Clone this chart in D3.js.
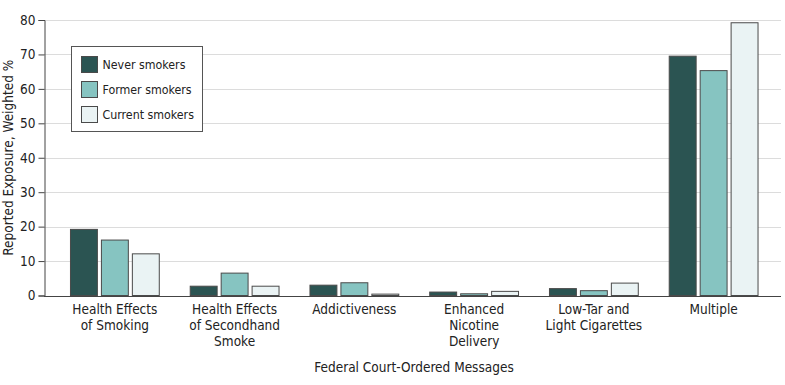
<!DOCTYPE html>
<html>
<head>
<meta charset="utf-8">
<script src="https://cdn.jsdelivr.net/npm/d3@7"></script>
<style>
  body { margin: 0; background: #fff; }
  text { font-family: "DejaVu Sans Condensed", "Liberation Sans Narrow", "Roboto", sans-serif; fill: #222; }
</style>
</head>
<body>
<svg id="chart"></svg>
<script>
const categories = [
  ['Health Effects', 'of Smoking'],
  ['Health Effects', 'of Secondhand', 'Smoke'],
  ['Addictiveness'],
  ['Enhanced', 'Nicotine', 'Delivery'],
  ['Low-Tar and', 'Light Cigarettes'],
  ['Multiple']
];
const seriesNames = ['Never smokers', 'Former smokers', 'Current smokers'];
const neverSmokers = [19.2, 2.7, 3.0, 1.0, 2.0, 69.5];
const formerSmokers = [16.1, 6.5, 3.7, 0.5, 1.4, 65.3];
const currentSmokers = [12.1, 2.7, 0.4, 1.2, 3.6, 79.2];
const yTicks = [0, 10, 20, 30, 40, 50, 60, 70, 80];

const colors = ['#2b5452', '#86c4c1', '#eaf3f4'];
const series = [neverSmokers, formerSmokers, currentSmokers];

const width = 785;
const height = 385;
const margin = { top: 20, right: 4, bottom: 90, left: 44 };

const svg = d3.select('#chart')
  .attr('width', width)
  .attr('height', height);

// bands sit a little inside the plot, more room on the left
const x0 = d3.scaleBand()
  .domain(d3.range(categories.length))
  .range([55, 773.5])
  .padding(0);

const x1 = d3.scaleBand()
  .domain(d3.range(series.length))
  .range([0, x0.bandwidth()])
  .paddingOuter(0.5)
  .paddingInner(0.13);

const y = d3.scaleLinear()
  .domain([0, 80])
  .range([height - margin.bottom + 0.5, margin.top]);

// grid
svg.append('g')
  .selectAll('line')
  .data(yTicks.slice(1))
  .join('line')
  .attr('x1', margin.left)
  .attr('x2', width - margin.right)
  .attr('y1', d => Math.round(y(d)) + 0.5)
  .attr('y2', d => Math.round(y(d)) + 0.5)
  .attr('stroke', '#dcdcdc')
  .attr('stroke-width', 1);

// bars
const groups = svg.append('g')
  .selectAll('g')
  .data(categories.map((c, i) => i))
  .join('g')
  .attr('transform', i => `translate(${x0(i)},0)`);

groups.selectAll('rect')
  .data(i => series.map((s, k) => ({ k, v: s[i] })))
  .join('rect')
  .attr('x', d => x1(d.k))
  .attr('width', x1.bandwidth())
  .attr('y', d => y(d.v))
  .attr('height', d => y(0) - y(d.v))
  .attr('fill', d => colors[d.k])
  .attr('stroke', '#4a4a4a')
  .attr('stroke-width', 1);

// y axis
const yAxis = svg.append('g')
  .attr('transform', `translate(${margin.left + 0.5},0)`)
  .call(d3.axisLeft(y).tickValues(yTicks).tickSize(6).tickPadding(3));
yAxis.select('.domain').attr('stroke', '#444');
yAxis.selectAll('.tick line').attr('stroke', '#444');
yAxis.selectAll('.tick text')
  .style('font-size', '13.5px')
  .attr('fill', '#222');

// x baseline
svg.append('line')
  .attr('x1', margin.left)
  .attr('x2', width - margin.right)
  .attr('y1', Math.round(y(0)) + 0.5)
  .attr('y2', Math.round(y(0)) + 0.5)
  .attr('stroke', '#444');

// category labels
const catLabels = svg.append('g')
  .selectAll('text')
  .data(categories)
  .join('text')
  .attr('text-anchor', 'middle')
  .attr('x', (d, i) => x0(i) + x0.bandwidth() / 2)
  .attr('y', 314)
  .style('font-size', '13.5px');

catLabels.selectAll('tspan')
  .data(d => d)
  .join('tspan')
  .attr('x', function () { return this.parentNode.getAttribute('x'); })
  .attr('dy', (d, i) => i === 0 ? 0 : 16)
  .text(d => d);

// axis titles
svg.append('text')
  .attr('text-anchor', 'middle')
  .attr('x', 414)
  .attr('y', 372)
  .style('font-size', '13.5px')
  .text('Federal Court-Ordered Messages');

svg.append('text')
  .attr('text-anchor', 'middle')
  .attr('transform', `translate(13,${(margin.top + y(0)) / 2}) rotate(-90)`)
  .style('font-size', '13.5px')
  .text('Reported Exposure, Weighted %');

// legend
const legend = svg.append('g').attr('transform', 'translate(71.5,46.5)');
legend.append('rect')
  .attr('width', 131)
  .attr('height', 85)
  .attr('fill', '#fff')
  .attr('stroke', '#555');

const items = legend.selectAll('g.item')
  .data(seriesNames)
  .join('g')
  .attr('class', 'item')
  .attr('transform', (d, i) => `translate(10,${10 + i * 25})`);

items.append('rect')
  .attr('width', 16)
  .attr('height', 16)
  .attr('fill', (d, i) => colors[i])
  .attr('stroke', '#4a4a4a');

items.append('text')
  .attr('x', 21)
  .attr('y', 12.5)
  .style('font-size', '12.3px')
  .text(d => d);
</script>
</body>
</html>
